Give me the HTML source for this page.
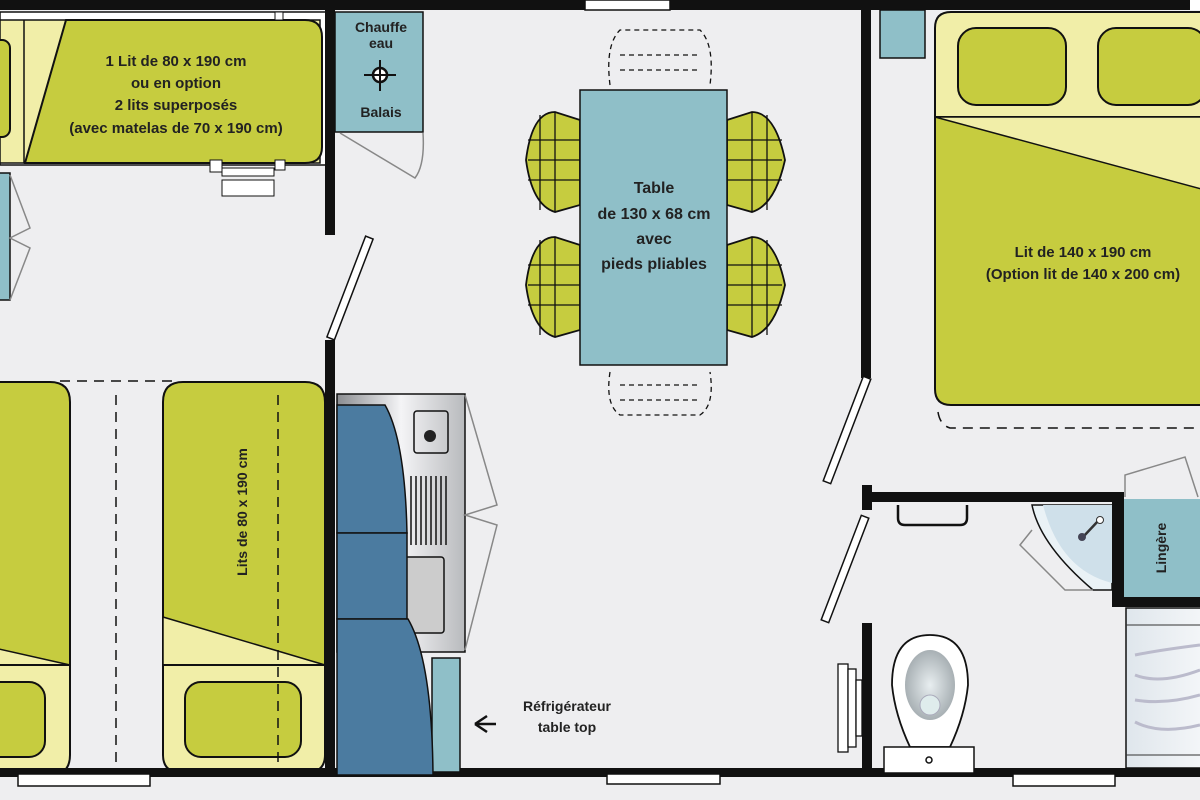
<!DOCTYPE html>
<html><head><meta charset="utf-8"><style>
html,body{margin:0;padding:0;background:#eeeef0}
svg{display:block}
text{font-family:"Liberation Sans",sans-serif;font-weight:bold;fill:#222}
</style></head><body>
<svg width="1200" height="800" viewBox="0 0 1200 800" xmlns="http://www.w3.org/2000/svg">
<defs>
<linearGradient id="steel" x1="0" x2="1" y1="0" y2="0"><stop offset="0" stop-color="#8a8c90"/><stop offset="0.5" stop-color="#f4f4f6"/><stop offset="1" stop-color="#b8babd"/></linearGradient>
<linearGradient id="shower" x1="0" x2="1"><stop offset="0" stop-color="#dfe6ec"/><stop offset="1" stop-color="#f5f7f9"/></linearGradient>
<radialGradient id="bowl"><stop offset="0" stop-color="#e8eef0"/><stop offset="1" stop-color="#a8b0b4"/></radialGradient>
</defs>
<rect width="1200" height="800" fill="#eeeef0"/>

<!-- top wall -->
<rect x="0" y="0" width="1200" height="10" fill="#111"/>
<rect x="585" y="0" width="85" height="10" fill="#fff" stroke="#111" stroke-width="1.5"/>
<rect x="1190" y="0" width="10" height="10" fill="#fff"/>

<!-- top-left bed -->
<rect x="0" y="12" width="330" height="153" fill="#fff" stroke="#111" stroke-width="1.5"/>
<rect x="0" y="20" width="320" height="143" fill="#f1eea8" stroke="#111" stroke-width="1.5"/>
<path d="M66 20 H305 Q322 20 322 37 V147 Q322 163 305 163 H25 Z" fill="#c6cc3f" stroke="#111" stroke-width="2"/>
<line x1="24" y1="20" x2="24" y2="163" stroke="#111" stroke-width="1.5"/>
<rect x="-10" y="40" width="20" height="97" rx="8" fill="#c6cc3f" stroke="#111" stroke-width="2"/>
<rect x="275" y="12" width="8" height="8" fill="#fff" stroke="#111"/>
<rect x="210" y="160" width="12" height="12" fill="#fff" stroke="#111"/>
<rect x="275" y="160" width="10" height="10" fill="#fff" stroke="#111"/>
<rect x="222" y="168" width="52" height="8" fill="#fff" stroke="#111"/>
<rect x="222" y="180" width="52" height="16" fill="#fff" stroke="#111"/>
<text x="176" y="66" font-size="15" text-anchor="middle">1 Lit de 80 x 190 cm</text>
<text x="176" y="88" font-size="15" text-anchor="middle">ou en option</text>
<text x="176" y="110" font-size="15" text-anchor="middle">2 lits superposés</text>
<text x="176" y="133" font-size="15" text-anchor="middle">(avec matelas de 70 x 190 cm)</text>

<!-- partition wall left -->
<rect x="325" y="10" width="10" height="225" fill="#111"/>
<rect x="325" y="340" width="10" height="436" fill="#111"/>
<rect x="346" y="234" width="8" height="108" fill="#fff" stroke="#111" stroke-width="1.5" transform="rotate(21 350 288)"/>

<!-- chauffe eau -->
<rect x="335" y="12" width="88" height="120" fill="#8fbfc8" stroke="#111" stroke-width="1.5"/>
<text x="381" y="32" font-size="14" text-anchor="middle">Chauffe</text>
<text x="381" y="48" font-size="14" text-anchor="middle">eau</text>
<circle cx="380" cy="75" r="7" fill="#fff" stroke="#111" stroke-width="2.5"/>
<line x1="364" y1="75" x2="396" y2="75" stroke="#111" stroke-width="2"/>
<line x1="380" y1="60" x2="380" y2="91" stroke="#111" stroke-width="2"/>
<text x="381" y="117" font-size="14" text-anchor="middle">Balais</text>
<path d="M340 133 L415 178 Q425 165 423 133" fill="none" stroke="#888" stroke-width="1.5"/>

<!-- left small blue -->
<rect x="-2" y="173" width="12" height="127" fill="#8fbfc8" stroke="#111" stroke-width="1.5"/>
<path d="M10 175 L30 228 L10 238 L30 248 L10 300" fill="none" stroke="#888" stroke-width="1.5"/>

<!-- bottom-left beds -->
<path d="M-10 382 H50 Q70 382 70 402 V665 H-10Z" fill="#c6cc3f" stroke="#111" stroke-width="2"/>
<path d="M-10 647 L70 665 H-10Z" fill="#f1eea8" stroke="#111" stroke-width="1.5"/>
<path d="M-10 665 H70 V755 Q70 775 50 775 H-10Z" fill="#f1eea8" stroke="#111" stroke-width="2"/>
<rect x="-20" y="682" width="65" height="75" rx="16" fill="#c6cc3f" stroke="#111" stroke-width="2"/>

<path d="M163 665 V402 Q163 382 183 382 H305 Q325 382 325 402 V665Z" fill="#c6cc3f" stroke="#111" stroke-width="2"/>
<path d="M163 617 L325 665 H163Z" fill="#f1eea8" stroke="#111" stroke-width="1.5"/>
<path d="M163 665 H325 V755 Q325 773 305 773 H183 Q163 773 163 755Z" fill="#f1eea8" stroke="#111" stroke-width="2"/>
<rect x="185" y="682" width="116" height="75" rx="16" fill="#c6cc3f" stroke="#111" stroke-width="2"/>
<text transform="translate(247 512) rotate(-90)" font-size="14" text-anchor="middle">Lits de 80 x 190 cm</text>
<g fill="none" stroke="#111" stroke-width="1.5" stroke-dasharray="10 7">
<line x1="60" y1="381" x2="175" y2="381"/>
<line x1="116" y1="395" x2="116" y2="765"/>
<line x1="278" y1="395" x2="278" y2="765"/>
</g>

<!-- bottom wall -->
<rect x="0" y="768" width="1200" height="9" fill="#111"/>
<rect x="18" y="774" width="132" height="12" fill="#fff" stroke="#111" stroke-width="1.5"/>
<rect x="607" y="774" width="113" height="10" fill="#fff" stroke="#111" stroke-width="1.5"/>
<rect x="1013" y="774" width="102" height="12" fill="#fff" stroke="#111" stroke-width="1.5"/>

<!-- kitchen -->
<rect x="337" y="394" width="128" height="258" fill="url(#steel)" stroke="#111" stroke-width="1.5"/>
<rect x="414" y="411" width="34" height="42" rx="3" fill="none" stroke="#111" stroke-width="1.5"/>
<circle cx="430" cy="436" r="6" fill="#222"/>
<g stroke="#111" stroke-width="1.5"><line x1="411" y1="476" x2="411" y2="545"/><line x1="416" y1="476" x2="416" y2="545"/><line x1="421" y1="476" x2="421" y2="545"/><line x1="426" y1="476" x2="426" y2="545"/><line x1="431" y1="476" x2="431" y2="545"/><line x1="436" y1="476" x2="436" y2="545"/><line x1="441" y1="476" x2="441" y2="545"/><line x1="446" y1="476" x2="446" y2="545"/></g>
<rect x="405" y="557" width="39" height="76" rx="3" fill="#ccc" stroke="#111" stroke-width="1.5"/>
<path d="M465 395 L497 505 L465 515 L497 525 L465 650" fill="none" stroke="#888" stroke-width="1.5"/>
<rect x="432" y="658" width="28" height="114" fill="#8fbfc8" stroke="#111" stroke-width="1.5"/>
<path d="M337 405 H385 Q405 440 407 533 H337Z" fill="#4b7ba0" stroke="#111" stroke-width="1.5"/>
<rect x="337" y="533" width="70" height="86" fill="#4b7ba0" stroke="#111" stroke-width="1.5"/>
<path d="M337 619 H408 Q432 660 433 775 H337Z" fill="#4b7ba0" stroke="#111" stroke-width="1.5"/>
<text x="567" y="711" font-size="14" text-anchor="middle">Réfrigérateur</text>
<text x="567" y="732" font-size="14" text-anchor="middle">table top</text>
<path d="M475 724 H496 M475 724 L487 716 M475 724 L487 732" stroke="#111" stroke-width="2.5" fill="none"/>

<!-- table & chairs -->
<g fill="#c6cc3f" stroke="#111" stroke-width="1.8">
<path d="M580 120 L555 112 Q532 112 526 160 Q532 205 555 212 L580 205Z"/>
<path d="M580 245 L555 237 Q532 237 526 285 Q532 330 555 337 L580 330Z"/>
<path d="M727 120 L752 112 Q775 112 785 160 Q775 205 752 212 L727 205Z"/>
<path d="M727 245 L752 237 Q775 237 785 285 Q775 330 752 337 L727 330Z"/>
</g>
<g stroke="#111" stroke-width="1.3">
<line x1="540" y1="115" x2="540" y2="210"/><line x1="555" y1="112" x2="555" y2="212"/>
<line x1="540" y1="240" x2="540" y2="335"/><line x1="555" y1="237" x2="555" y2="337"/>
<line x1="767" y1="115" x2="767" y2="210"/><line x1="752" y1="112" x2="752" y2="212"/>
<line x1="767" y1="240" x2="767" y2="335"/><line x1="752" y1="237" x2="752" y2="337"/>
<line x1="528" y1="140" x2="580" y2="140"/><line x1="528" y1="160" x2="580" y2="160"/><line x1="528" y1="180" x2="580" y2="180"/>
<line x1="528" y1="265" x2="580" y2="265"/><line x1="528" y1="285" x2="580" y2="285"/><line x1="528" y1="305" x2="580" y2="305"/>
<line x1="727" y1="140" x2="782" y2="140"/><line x1="727" y1="160" x2="782" y2="160"/><line x1="727" y1="180" x2="782" y2="180"/>
<line x1="727" y1="265" x2="782" y2="265"/><line x1="727" y1="285" x2="782" y2="285"/><line x1="727" y1="305" x2="782" y2="305"/>
</g>
<g fill="none" stroke="#111" stroke-width="1.3" stroke-dasharray="5 4">
<path d="M610 85 Q605 45 620 30 H700 Q715 45 710 85"/><path d="M620 70 H700 M620 55 H700"/>
<path d="M610 372 Q605 405 620 415 H700 Q715 405 710 372"/><path d="M620 385 H700 M620 400 H700"/>
</g>
<rect x="580" y="90" width="147" height="275" fill="#8fbfc8" stroke="#111" stroke-width="1.5"/>
<text x="654" y="193" font-size="16" text-anchor="middle">Table</text>
<text x="654" y="219" font-size="16" text-anchor="middle">de 130 x 68 cm</text>
<text x="654" y="244" font-size="16" text-anchor="middle">avec</text>
<text x="654" y="269" font-size="16" text-anchor="middle">pieds pliables</text>

<!-- right wall -->
<rect x="861" y="10" width="10" height="368" fill="#111"/>
<rect x="843" y="374" width="8" height="112" fill="#fff" stroke="#111" stroke-width="1.5" transform="rotate(21 847 430)"/>
<rect x="880" y="10" width="45" height="48" fill="#8fbfc8" stroke="#111" stroke-width="1.5"/>

<!-- big bed -->
<path d="M935 117 V28 Q935 12 951 12 H1205 V117Z" fill="#f1eea8" stroke="#111" stroke-width="2"/>
<rect x="958" y="28" width="108" height="77" rx="18" fill="#c6cc3f" stroke="#111" stroke-width="2"/>
<rect x="1098" y="28" width="108" height="77" rx="18" fill="#c6cc3f" stroke="#111" stroke-width="2"/>
<path d="M935 117 H1205 V405 H951 Q935 405 935 389Z" fill="#c6cc3f" stroke="#111" stroke-width="2"/>
<path d="M935 117 L1205 190 V117Z" fill="#f1eea8" stroke="#111" stroke-width="1.5"/>
<text x="1083" y="257" font-size="15" text-anchor="middle">Lit de 140 x 190 cm</text>
<text x="1083" y="279" font-size="15" text-anchor="middle">(Option lit de 140 x 200 cm)</text>
<path d="M938 412 Q940 425 950 428 H1200" fill="none" stroke="#111" stroke-width="1.5" stroke-dasharray="10 7"/>

<!-- bathroom -->
<rect x="862" y="485" width="10" height="25" fill="#111"/>
<rect x="862" y="492" width="260" height="10" fill="#111"/>
<rect x="862" y="623" width="10" height="152" fill="#111"/>
<rect x="841" y="513" width="8" height="112" fill="#fff" stroke="#111" stroke-width="1.5" transform="rotate(21 845 569)"/>
<path d="M898 505 V518 Q898 525 905 525 H960 Q967 525 967 518 V505" fill="none" stroke="#111" stroke-width="2.5"/>
<rect x="838" y="664" width="10" height="88" fill="#fff" stroke="#111" stroke-width="1.3"/>
<rect x="848" y="669" width="8" height="78" fill="#fff" stroke="#111" stroke-width="1.3"/>
<rect x="856" y="680" width="6" height="56" fill="#fff" stroke="#111" stroke-width="1.3"/>
<path d="M1032 505 Q1040 545 1093 590 H1112 V505Z" fill="#eaf2f6" stroke="#111" stroke-width="1.5"/>
<path d="M1043 505 Q1060 570 1112 583 V505Z" fill="#cfe0ea"/>
<path d="M1032 530 L1020 545 L1065 590 L1093 590" fill="none" stroke="#888" stroke-width="1.5"/>
<line x1="1083" y1="537" x2="1099" y2="520" stroke="#333" stroke-width="2.5"/><circle cx="1100" cy="520" r="3.5" fill="#fff" stroke="#333"/><circle cx="1082" cy="537" r="4" fill="#445"/>
<path d="M1125 497 L1125 475 L1185 457 L1198 497" fill="none" stroke="#888" stroke-width="1.5"/>
<rect x="1112" y="492" width="12" height="115" fill="#111"/>
<rect x="1112" y="597" width="90" height="10" fill="#111"/>
<rect x="1124" y="499" width="78" height="98" fill="#8fbfc8"/>
<text transform="translate(1166 548) rotate(-90)" font-size="14" text-anchor="middle">Lingère</text>
<rect x="1126" y="608" width="80" height="160" fill="url(#shower)" stroke="#111" stroke-width="1.5"/>
<line x1="1126" y1="625" x2="1200" y2="625" stroke="#333"/>
<line x1="1126" y1="755" x2="1200" y2="755" stroke="#333"/>
<g fill="none" stroke="#bbc" stroke-width="3"><path d="M1135 655 Q1160 650 1200 645"/><path d="M1135 675 Q1160 685 1200 670"/><path d="M1135 700 Q1165 705 1200 695"/><path d="M1135 722 Q1160 735 1200 725"/></g>
<path d="M910 747 Q895 715 892 685 Q892 635 930 635 Q968 635 968 685 Q965 715 950 747Z" fill="#fff" stroke="#111" stroke-width="1.8"/>
<ellipse cx="930" cy="685" rx="25" ry="35" fill="url(#bowl)"/>
<circle cx="930" cy="705" r="10" fill="#dfecec" stroke="#aab"/>
<rect x="884" y="747" width="90" height="26" fill="#fff" stroke="#111" stroke-width="1.5"/>
<circle cx="929" cy="760" r="3" fill="#fff" stroke="#111" stroke-width="1.5"/>
</svg>
</body></html>
